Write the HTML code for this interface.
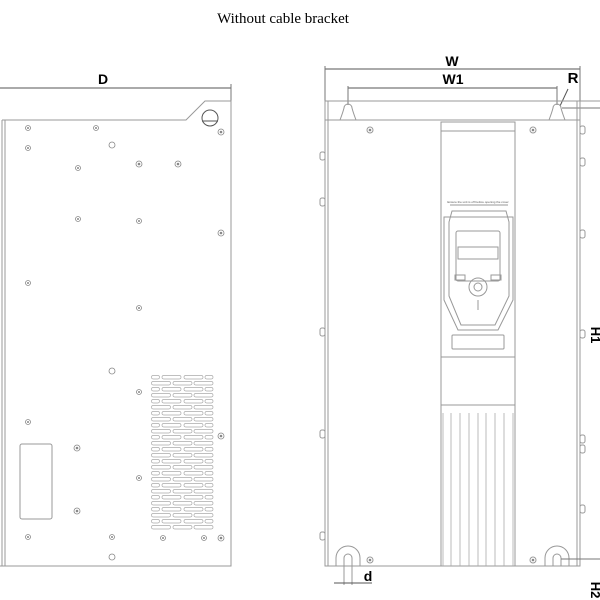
<!DOCTYPE html><html><head><style>body{margin:0;background:#fff}svg{display:block}</style></head><body>
<svg width="600" height="600" viewBox="0 0 600 600" xmlns="http://www.w3.org/2000/svg" font-family="Liberation Sans, sans-serif">
<defs>
<pattern id="vp" x="151" y="375" width="63" height="12" patternUnits="userSpaceOnUse">
<g stroke="#aaa" fill="none" stroke-width="0.7">
<rect x="0.5" y="0.5" width="8" height="3.5" rx="1.7"/><rect x="11" y="0.5" width="19" height="3.5" rx="1.7"/><rect x="33" y="0.5" width="19" height="3.5" rx="1.7"/><rect x="54" y="0.5" width="8" height="3.5" rx="1.7"/>
<rect x="0.5" y="6.5" width="19" height="3.5" rx="1.7"/><rect x="22" y="6.5" width="19" height="3.5" rx="1.7"/><rect x="43" y="6.5" width="19" height="3.5" rx="1.7"/>
</g></pattern>
</defs>
<text x="283" y="23" font-family="Liberation Serif, serif" font-size="15" text-anchor="middle">Without cable bracket</text>
<g stroke="#999" fill="none" stroke-width="1">
<line x1="0" y1="88" x2="231" y2="88" stroke="#555"/>
<line x1="231" y1="84" x2="231" y2="101" stroke="#777"/>
<path d="M2 120 H186 L205 101 H231 V566 H0"/>
<line x1="2" y1="120" x2="2" y2="566"/><line x1="5" y1="120" x2="5" y2="566"/>
<circle cx="210" cy="118" r="8" stroke="#555"/><line x1="202" y1="121" x2="218" y2="121" stroke="#555"/>
<rect x="20" y="444" width="32" height="75" rx="2"/>
</g>
<rect x="151" y="375" width="63" height="156" fill="url(#vp)"/>
<g stroke="#888" fill="none" stroke-width="0.8">
<circle cx="28" cy="128" r="2.5"/><circle cx="96" cy="128" r="2.5"/><circle cx="28" cy="148" r="2.5"/>
<circle cx="78" cy="168" r="2.5"/><circle cx="139" cy="164" r="3"/><circle cx="178" cy="164" r="3"/>
<circle cx="221" cy="132" r="3"/><circle cx="78" cy="219" r="2.5"/><circle cx="139" cy="221" r="2.5"/><circle cx="221" cy="233" r="3"/>
<circle cx="28" cy="283" r="2.5"/><circle cx="139" cy="308" r="2.5"/><circle cx="139" cy="392" r="2.5"/>
<circle cx="28" cy="422" r="2.5"/><circle cx="77" cy="448" r="3"/><circle cx="139" cy="478" r="2.5"/><circle cx="221" cy="436" r="3"/>
<circle cx="77" cy="511" r="3"/><circle cx="28" cy="537" r="2.5"/><circle cx="112" cy="537" r="2.5"/><circle cx="163" cy="538" r="2.5"/><circle cx="204" cy="538" r="2.5"/><circle cx="221" cy="538" r="3"/>
<circle cx="112" cy="145" r="3"/><circle cx="112" cy="371" r="3"/><circle cx="112" cy="557" r="3"/>
</g>
<g fill="#888">
<circle cx="28" cy="128" r="1"/><circle cx="96" cy="128" r="1"/><circle cx="28" cy="148" r="1"/><circle cx="78" cy="168" r="1"/><circle cx="139" cy="164" r="1.3"/><circle cx="178" cy="164" r="1.3"/><circle cx="221" cy="132" r="1.3"/><circle cx="78" cy="219" r="1"/><circle cx="139" cy="221" r="1"/><circle cx="221" cy="233" r="1.3"/><circle cx="28" cy="283" r="1"/><circle cx="139" cy="308" r="1"/><circle cx="139" cy="392" r="1"/><circle cx="28" cy="422" r="1"/><circle cx="77" cy="448" r="1.3"/><circle cx="139" cy="478" r="1"/><circle cx="221" cy="436" r="1.3"/><circle cx="77" cy="511" r="1.3"/><circle cx="28" cy="537" r="1"/><circle cx="112" cy="537" r="1"/><circle cx="163" cy="538" r="1"/><circle cx="204" cy="538" r="1"/><circle cx="221" cy="538" r="1.3"/>
<circle cx="370" cy="130" r="1.3"/><circle cx="533" cy="130" r="1.3"/><circle cx="370" cy="560" r="1.3"/><circle cx="533" cy="560" r="1.3"/>
</g>
<text x="103" y="84" font-size="14" text-anchor="middle" font-weight="bold">D</text>
<g stroke="#999" fill="none" stroke-width="1">
<line x1="325" y1="69" x2="580" y2="69" stroke="#555"/>
<line x1="325" y1="66" x2="325" y2="101" stroke="#777"/><line x1="580" y1="66" x2="580" y2="101" stroke="#777"/>
<line x1="348" y1="88" x2="557" y2="88" stroke="#555"/>
<line x1="348" y1="86" x2="348" y2="105" stroke="#777"/><line x1="557" y1="86" x2="557" y2="105" stroke="#777"/>
<line x1="325" y1="101" x2="600" y2="101"/>
<line x1="562" y1="108" x2="600" y2="108" stroke="#777"/>
<line x1="560" y1="106" x2="568" y2="89" stroke="#555"/>
<rect x="325" y="101" width="255" height="19"/>
<line x1="328" y1="101" x2="328" y2="120"/><line x1="577" y1="101" x2="577" y2="120"/>
<path d="M340 120 Q343 112 344 108 A4 4 0 0 1 352 108 Q353 112 356 120"/>
<path d="M549 120 Q552 112 553 108 A4 4 0 0 1 561 108 Q562 112 565 120"/>
<rect x="325" y="120" width="255" height="446"/>
<line x1="328" y1="120" x2="328" y2="566"/><line x1="577" y1="120" x2="577" y2="566"/>
<path d="M441 566 V122 H515 V566"/>
<line x1="441" y1="131" x2="515" y2="131"/>
<line x1="441" y1="357" x2="515" y2="357"/>
<path d="M441 405 H515"/>
<rect x="452" y="335" width="52" height="14" rx="1"/>
<path d="M444 217 H513 V300 L498 330 H458 L444 300 Z"/>
<path d="M449 222 L452 211 H506 L509 222 V296 L495 325 H461 L449 296 Z"/>
<rect x="456" y="231" width="44" height="50" rx="2"/>
<rect x="458" y="247" width="40" height="12"/>
<circle cx="478" cy="287" r="9"/><circle cx="478" cy="287" r="4"/>
<rect x="455" y="275" width="10" height="5"/><rect x="491" y="275" width="10" height="5"/>
<line x1="450" y1="205" x2="508" y2="205"/>
<line x1="478" y1="300" x2="478" y2="310"/>
</g>
<g stroke="#aaa" stroke-width="0.8">
<line x1="443" y1="413" x2="443" y2="566"/><line x1="451" y1="413" x2="451" y2="566"/><line x1="460" y1="413" x2="460" y2="566"/><line x1="469" y1="413" x2="469" y2="566"/><line x1="478" y1="413" x2="478" y2="566"/><line x1="486" y1="413" x2="486" y2="566"/><line x1="495" y1="413" x2="495" y2="566"/><line x1="504" y1="413" x2="504" y2="566"/><line x1="513" y1="413" x2="513" y2="566"/>
</g>
<g stroke="#999" fill="none">
<circle cx="370" cy="130" r="3"/><circle cx="533" cy="130" r="3"/><circle cx="370" cy="560" r="3"/><circle cx="533" cy="560" r="3"/>
<path d="M336 566 V558 A12 12 0 0 1 360 558 V566"/><path d="M344 566 V558 A4 4 0 0 1 352 558 V566"/>
<path d="M545 566 V558 A12 12 0 0 1 569 558 V566"/><path d="M553 566 V558 A4 4 0 0 1 561 558 V566"/>
<path d="M561 559 H600" stroke="#777"/>
<line x1="344" y1="566" x2="344" y2="585"/><line x1="352" y1="566" x2="352" y2="585"/>
<line x1="334" y1="583" x2="372" y2="583" stroke="#555"/>
<rect x="320" y="152" width="5" height="8" rx="2"/><rect x="320" y="198" width="5" height="8" rx="2"/><rect x="320" y="328" width="5" height="8" rx="2"/><rect x="320" y="430" width="5" height="8" rx="2"/><rect x="320" y="532" width="5" height="8" rx="2"/>
<rect x="580" y="126" width="5" height="8" rx="2"/><rect x="580" y="158" width="5" height="8" rx="2"/><rect x="580" y="230" width="5" height="8" rx="2"/><rect x="580" y="330" width="5" height="8" rx="2"/><rect x="580" y="435" width="5" height="8" rx="2"/><rect x="580" y="445" width="5" height="8" rx="2"/><rect x="580" y="505" width="5" height="8" rx="2"/>
</g>
<text x="452" y="66" font-size="14" font-weight="bold" text-anchor="middle">W</text>
<text x="453" y="84" font-size="14" font-weight="bold" text-anchor="middle">W1</text>
<text x="573" y="83" font-size="15" font-weight="bold" text-anchor="middle">R</text>
<text x="368" y="581" font-size="14" font-weight="bold" text-anchor="middle">d</text>
<text transform="translate(591,335) rotate(90)" font-size="13" font-weight="bold" text-anchor="middle">H1</text>
<text transform="translate(591,590) rotate(90)" font-size="13" font-weight="bold" text-anchor="middle">H2</text>
<text x="478" y="203" font-size="3" text-anchor="middle" fill="#555">Ensure the unit is off before opening the cover</text>
</svg>
</body></html>
